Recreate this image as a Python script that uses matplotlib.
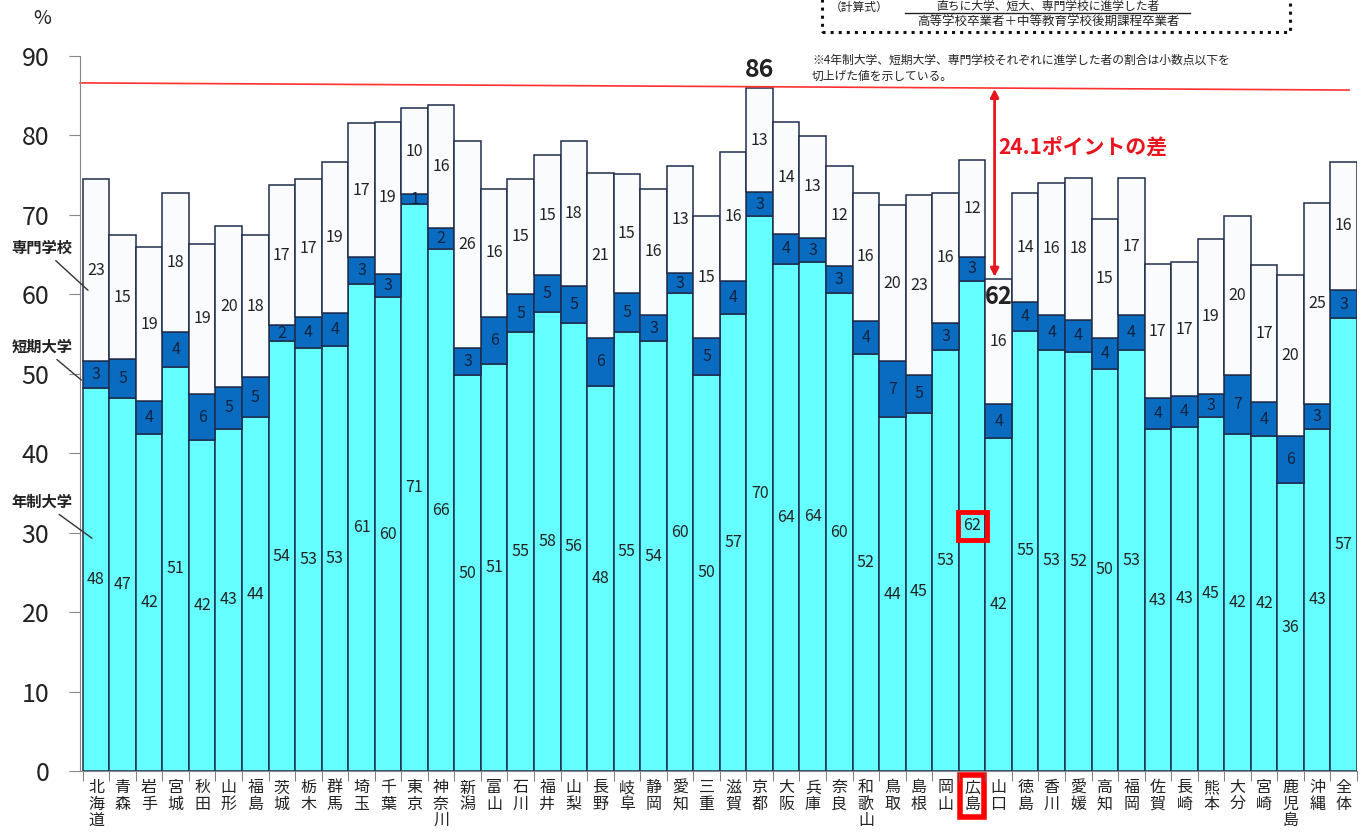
import numpy as np
import matplotlib.pyplot as plt
from matplotlib.patches import Rectangle

plt.rcParams['font.family'] = ['Noto Sans CJK JP', 'DejaVu Sans']

# 都道府県
prefs = ['北海道', '青森', '岩手', '宮城', '秋田', '山形', '福島', '茨城', '栃木', '群馬',
         '埼玉', '千葉', '東京', '神奈川', '新潟', '富山', '石川', '福井', '山梨', '長野',
         '岐阜', '静岡', '愛知', '三重', '滋賀', '京都', '大阪', '兵庫', '奈良', '和歌山',
         '鳥取', '島根', '岡山', '広島', '山口', '徳島', '香川', '愛媛', '高知', '福岡',
         '佐賀', '長崎', '熊本', '大分', '宮崎', '鹿児島', '沖縄', '全体']

# 各区分の割合（%）
univ = [48.2, 47.0, 42.4, 50.9, 41.6, 43.1, 44.5, 54.1, 53.3, 53.5,
        61.3, 59.6, 71.3, 65.7, 49.8, 51.2, 55.2, 57.8, 56.4, 48.5,
        55.3, 54.1, 60.1, 49.9, 57.5, 69.8, 63.8, 64.0, 60.1, 52.5,
        44.5, 45.1, 53.0, 61.7, 41.9, 55.4, 53.0, 52.7, 50.6, 53.0,
        43.0, 43.3, 44.6, 42.4, 42.1, 36.2, 43.1, 57.0]
junior = [3.4, 4.9, 4.2, 4.4, 5.9, 5.2, 5.1, 2.0, 3.8, 4.2,
          3.4, 3.0, 1.3, 2.7, 3.4, 5.9, 4.8, 4.6, 4.6, 6.0,
          4.8, 3.3, 2.6, 4.6, 4.2, 3.1, 3.8, 3.1, 3.5, 4.1,
          7.1, 4.7, 3.4, 3.0, 4.3, 3.6, 4.4, 4.1, 3.9, 4.4,
          3.9, 3.9, 2.8, 7.4, 4.4, 5.9, 3.1, 3.5]
voc = [22.9, 15.5, 19.3, 17.5, 18.8, 20.3, 17.8, 17.6, 17.4, 18.9,
       16.8, 19.1, 10.8, 15.4, 26.1, 16.2, 14.5, 15.1, 18.3, 20.8,
       15.0, 15.9, 13.5, 15.3, 16.2, 13.0, 14.1, 12.8, 12.5, 16.2,
       19.6, 22.7, 16.4, 12.2, 15.7, 13.7, 16.6, 17.8, 15.0, 17.2,
       16.9, 16.8, 19.5, 20.1, 17.2, 20.3, 25.3, 16.2]

# 表示ラベル（切上げ値）
univ_lbl = [48, 47, 42, 51, 42, 43, 44, 54, 53, 53, 61, 60, 71, 66, 50, 51, 55, 58, 56, 48,
            55, 54, 60, 50, 57, 70, 64, 64, 60, 52, 44, 45, 53, 62, 42, 55, 53, 52, 50, 53,
            43, 43, 45, 42, 42, 36, 43, 57]
junior_lbl = [3, 5, 4, 4, 6, 5, 5, 2, 4, 4, 3, 3, 1, 2, 3, 6, 5, 5, 5, 6,
              5, 3, 3, 5, 4, 3, 4, 3, 3, 4, 7, 5, 3, 3, 4, 4, 4, 4, 4, 4,
              4, 4, 3, 7, 4, 6, 3, 3]
voc_lbl = [23, 15, 19, 18, 19, 20, 18, 17, 17, 19, 17, 19, 10, 16, 26, 16, 15, 15, 18, 21,
           15, 16, 13, 15, 16, 13, 14, 13, 12, 16, 20, 23, 16, 12, 16, 14, 16, 18, 15, 17,
           17, 17, 19, 20, 17, 20, 25, 16]

max_total = 86.6   # 京都（赤線）
gap_text = '24.1ポイントの差'
hiroshima = prefs.index('広島')
yamaguchi = prefs.index('山口')
kyoto = prefs.index('京都')

univ = np.array(univ)
junior = np.array(junior)
voc = np.array(voc)
x = np.arange(len(prefs))

fig = plt.figure(figsize=(13.66, 8.34), dpi=100)
ax = fig.add_axes([0.0586, 0.0755, 0.9348, 0.8575])

edge = '#1f2d4d'
c1 = ax.bar(x, univ, width=1.0, color='#66ffff', edgecolor=edge, linewidth=1.1)
c2 = ax.bar(x, junior, bottom=univ, width=1.0, color='#0a6cc0', edgecolor=edge, linewidth=1.1)
c3 = ax.bar(x, voc, bottom=univ + junior, width=1.0, color='#fafbfd', edgecolor=edge, linewidth=1.1)

t1 = ax.bar_label(c1, labels=univ_lbl, label_type='center', fontsize=11.5, color='#222222')
ax.bar_label(c2, labels=junior_lbl, label_type='center', fontsize=11.5, color='#10243f')
ax.bar_label(c3, labels=voc_lbl, label_type='center', fontsize=11.5, color='#222222')
t1[hiroshima].set_bbox(dict(facecolor='none', edgecolor='red', linewidth=3.5, pad=4))

ax.set_xlim(-0.6, len(prefs) - 0.5)
ax.set_ylim(0, 90)
ax.set_yticks(np.arange(0, 91, 10))
ax.tick_params(axis='y', labelsize=18, length=8, color='#888888', pad=14, labelcolor='#222222')
ax.set_xticks(x)
ax.set_xticklabels(['\n'.join(p) for p in prefs], fontsize=11.5, linespacing=0.95,
                   va='top', color='#222222')
ax.tick_params(axis='x', length=0, pad=6)
ax.set_xticks(np.arange(-0.5, len(prefs), 1.0), minor=True)
ax.tick_params(axis='x', which='minor', length=7, color='#666666')
ax.get_xticklabels()[hiroshima].set_bbox(dict(facecolor='none', edgecolor='red', linewidth=4, pad=3))

for s in ['top', 'right']:
    ax.spines[s].set_visible(False)
ax.spines['left'].set_color('#888888')
ax.spines['bottom'].set_color('#888888')

# 最大値の赤線と差
ax.plot([-0.6, 47.2], [max_total, max_total - 0.9], color='#ff3030', linewidth=1.2, clip_on=False)
ax.text(kyoto, 88.2, '86', ha='center', va='center', fontsize=18, fontweight='bold', color='#222222')
top_yama = univ[yamaguchi] + junior[yamaguchi] + voc[yamaguchi]
ax.text(yamaguchi, 59.7, '62', ha='center', va='center', fontsize=17, fontweight='bold', color='#222222')
ax.annotate('', xy=(yamaguchi - 0.15, top_yama + 0.3), xytext=(yamaguchi - 0.15, max_total - 0.75),
            arrowprops=dict(arrowstyle='<|-|>', color='#e8141e', linewidth=2, mutation_scale=12,
                            shrinkA=0, shrinkB=0))
ax.text(yamaguchi + 0.0, 78.5, gap_text, ha='left', va='center', fontsize=15,
        fontweight='bold', color='#e8141e')

# 凡例代わりの注記
ax.annotate('専門学校', xy=(-0.3, 60.5), xytext=(42, 586), textcoords='figure pixels',
            ha='center', va='center', fontsize=11, fontweight='bold', color='#222222',
            arrowprops=dict(arrowstyle='-', color='#333333', linewidth=1, shrinkA=2, shrinkB=0))
ax.annotate('短期大学', xy=(-0.55, 49.2), xytext=(42, 487), textcoords='figure pixels',
            ha='center', va='center', fontsize=11, fontweight='bold', color='#222222',
            arrowprops=dict(arrowstyle='-', color='#333333', linewidth=1, shrinkA=2, shrinkB=0))
ax.annotate('年制大学', xy=(-0.15, 29.3), xytext=(42, 332), textcoords='figure pixels',
            ha='center', va='center', fontsize=11, fontweight='bold', color='#222222',
            arrowprops=dict(arrowstyle='-', color='#333333', linewidth=1, shrinkA=2, shrinkB=0))

fig.text(42 / 1366, 1 - 18 / 834, '%', ha='center', va='center', fontsize=14, color='#222222')

# 計算式ボックス
fig.patches.append(Rectangle((822 / 1366, 1 - 32 / 834), 468 / 1366, 60 / 834,
                             transform=fig.transFigure, fill=False, linestyle=':',
                             linewidth=2.2, edgecolor='#111111'))
fig.text(830 / 1366, 1 - 7 / 834, '（計算式）', ha='left', va='center', fontsize=8.5, color='#222222')
fig.text(1048 / 1366, 1 - 6 / 834, '直ちに大学、短大、専門学校に進学した者', ha='center',
         va='center', fontsize=8.5, color='#222222')
fig.add_artist(plt.Line2D([905 / 1366, 1190 / 1366], [1 - 13 / 834, 1 - 13 / 834],
                          transform=fig.transFigure, color='#222222', linewidth=1))
fig.text(1048 / 1366, 1 - 22 / 834, '高等学校卒業者＋中等教育学校後期課程卒業者', ha='center',
         va='center', fontsize=9, color='#222222')
fig.text(812 / 1366, 1 - 60 / 834, '※4年制大学、短期大学、専門学校それぞれに進学した者の割合は小数点以下を',
         ha='left', va='center', fontsize=8.5, color='#222222')
fig.text(812 / 1366, 1 - 76 / 834, '切上げた値を示している。',
         ha='left', va='center', fontsize=8.5, color='#222222')

fig.savefig('out.png', dpi=100, facecolor='white')
